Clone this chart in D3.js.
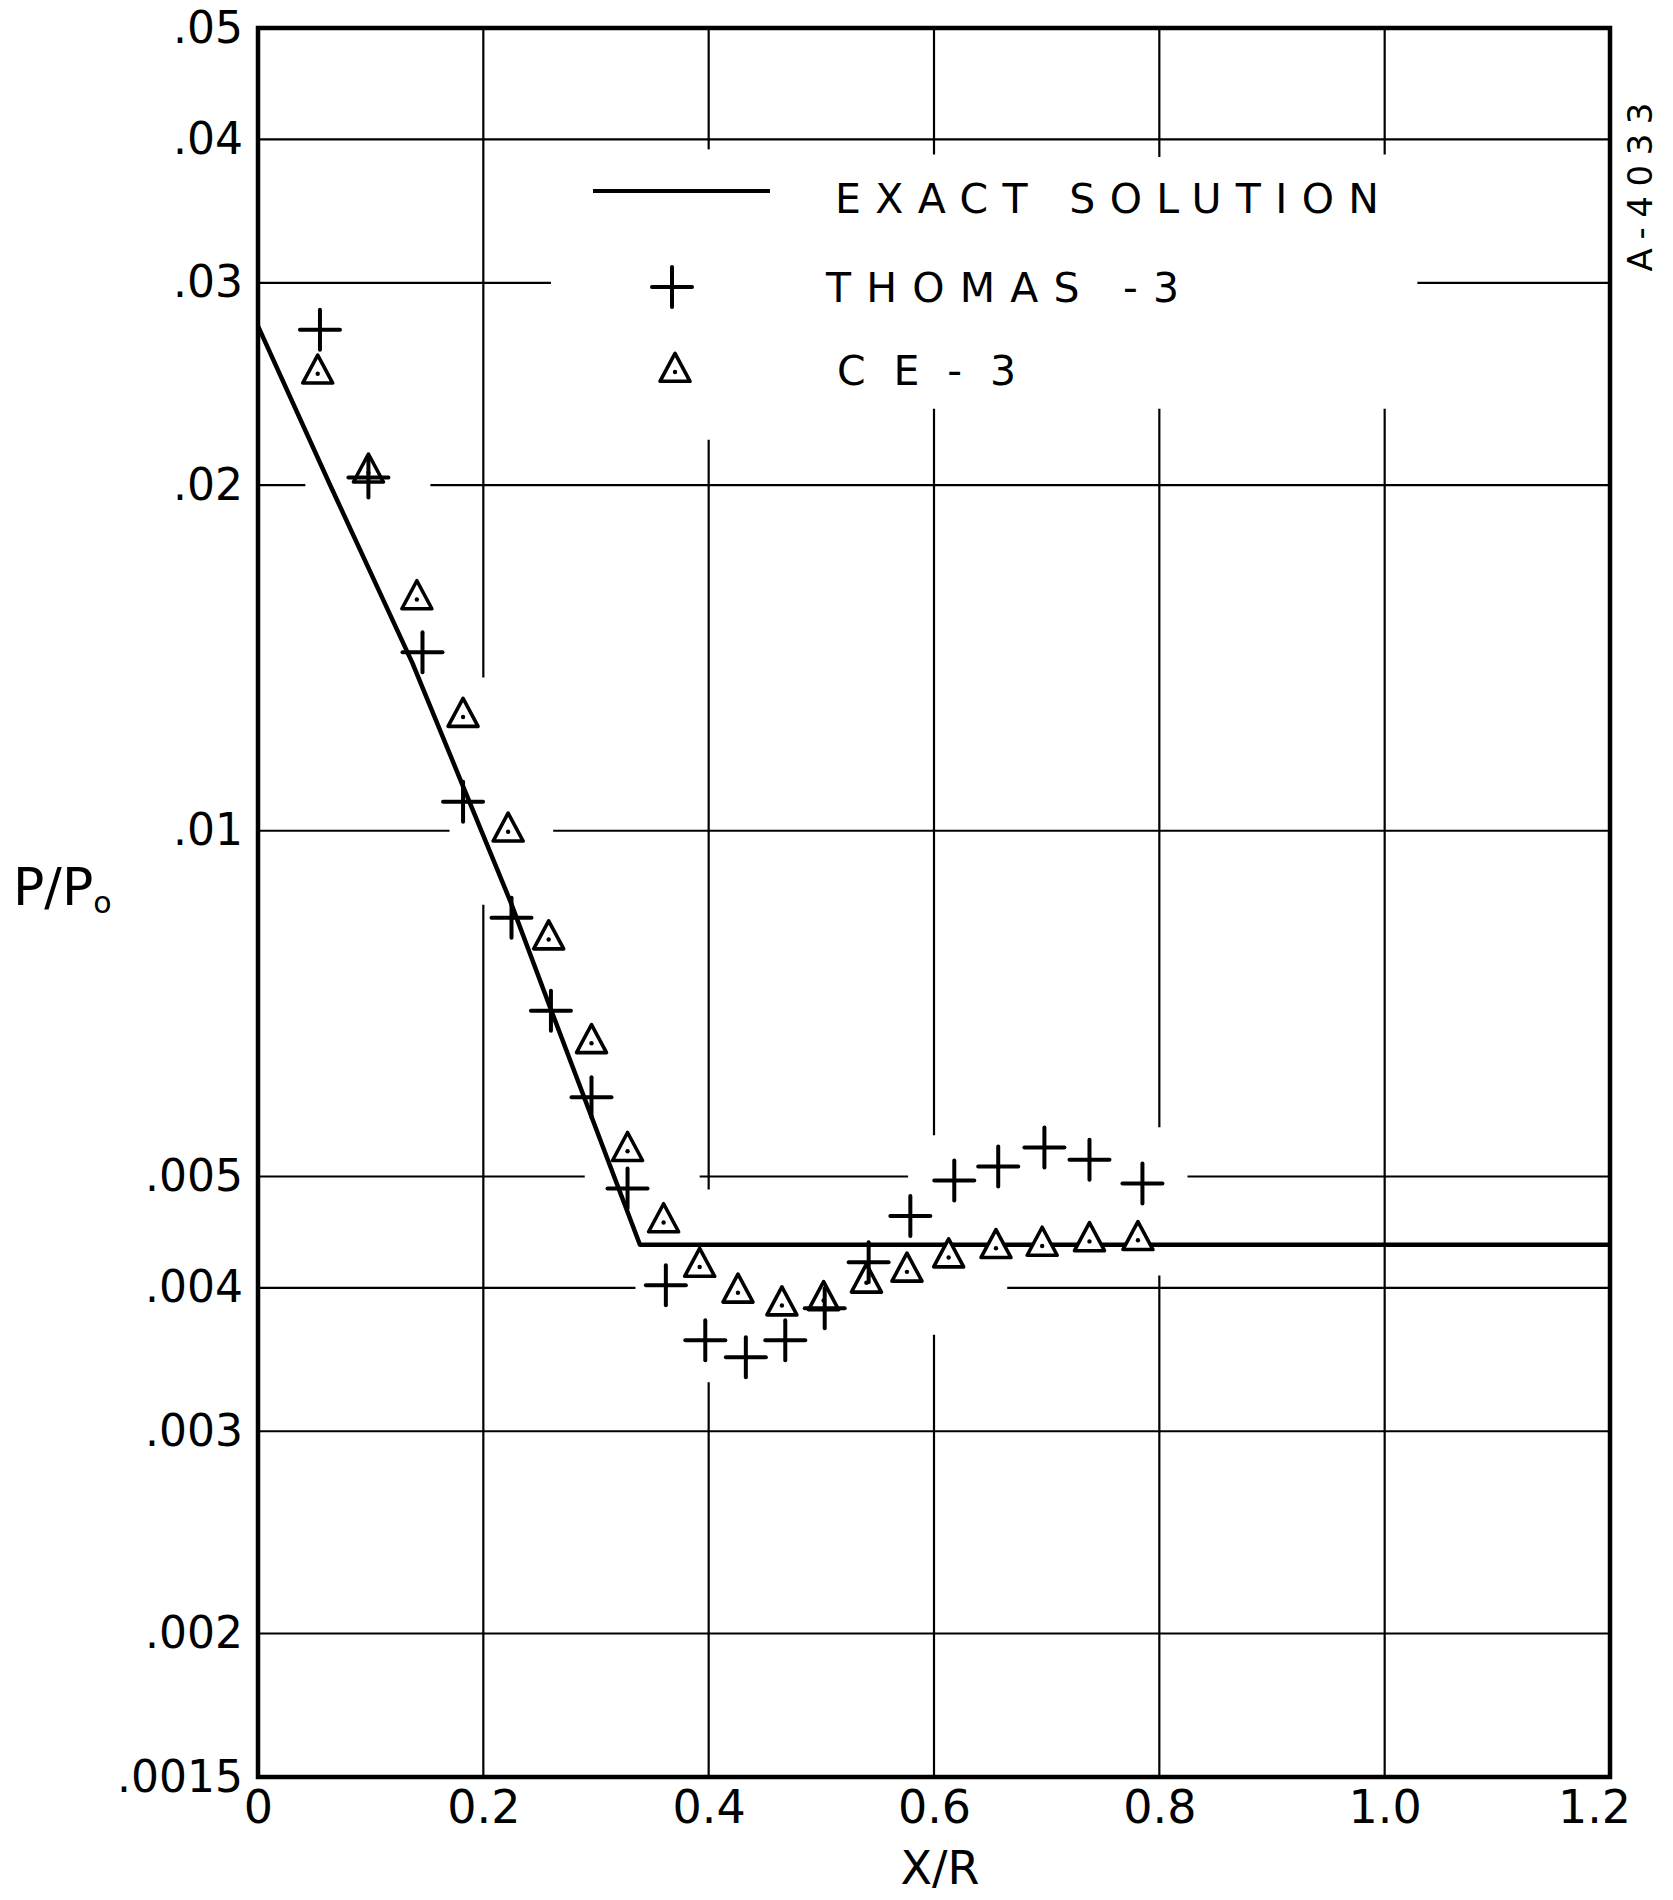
<!DOCTYPE html>
<html><head><meta charset="utf-8">
<script src="https://cdn.jsdelivr.net/npm/d3@7"></script>
<style>
html,body{margin:0;padding:0;background:#fff;}
svg{display:block;}
text{font-family:"DejaVu Sans",sans-serif;fill:#000;}
</style></head><body>
<svg id="chart" width="1673" height="1900"></svg>
<script>
// ---- data ----
const xTicks = [0, 0.2, 0.4, 0.6, 0.8, 1.0, 1.2];
const xTickLabels = ["0", "0.2", "0.4", "0.6", "0.8", "1.0", "1.2"];
const yTicks = [0.05, 0.04, 0.03, 0.02, 0.01, 0.005, 0.004, 0.003, 0.002, 0.0015];
const yTickLabels = [".05", ".04", ".03", ".02", ".01", ".005", ".004", ".003", ".002", ".0015"];

const hGridValues = [0.04, 0.03, 0.02, 0.01, 0.005, 0.004, 0.003, 0.002];
const hGridGaps = [[], [[0.26, 1.029]], [[0.042, 0.153]], [[0.170, 0.262]], [[0.290, 0.392], [0.577, 0.825]], [[0.335, 0.665]], [], []];
const vGridValues = [0.2, 0.4, 0.6, 0.8, 1.0];
const vGridGaps = [[[0.00862, 0.0136]], [[0.0219, 0.0392], [0.00331, 0.00487]], [[0.0233, 0.0388], [0.00364, 0.00543]], [[0.0233, 0.0386], [0.0041, 0.00552]], [[0.0233, 0.0388]]];

const exactX = [0, 0.064, 0.137, 0.176, 0.224, 0.259, 0.339, 1.2];
const exactY = [0.0275, 0.0200, 0.0140, 0.0113, 0.00868, 0.00703, 0.00436, 0.00436];

const thomasX = [0.055, 0.098, 0.146, 0.182, 0.225, 0.260, 0.296, 0.328, 0.362, 0.397, 0.433, 0.468, 0.503, 0.542, 0.579, 0.618, 0.657, 0.698, 0.738, 0.785];
const thomasY = [0.0273, 0.0203, 0.0143, 0.0106, 0.0084, 0.00697, 0.00586, 0.00488, 0.00402, 0.0036, 0.00348, 0.0036, 0.00384, 0.00421, 0.00462, 0.00496, 0.0051, 0.0053, 0.00517, 0.00493];

const ceX = [0.053, 0.098, 0.141, 0.182, 0.222, 0.258, 0.296, 0.328, 0.360, 0.392, 0.426, 0.465, 0.502, 0.540, 0.576, 0.613, 0.655, 0.696, 0.738, 0.781];
const ceY = [0.0250, 0.0205, 0.0159, 0.01256, 0.00998, 0.00804, 0.00653, 0.00526, 0.00456, 0.00417, 0.00396, 0.00386, 0.0039, 0.00404, 0.00413, 0.00425, 0.00433, 0.00435, 0.00439, 0.0044];

const legendLabels = ["EXACT SOLUTION", "THOMAS -3", "CE-3"];
const xTitle = "X/R";
const yTitle = "P/P";
const yTitleSub = "o";
const refLabel = "A-4033";

// ---- layout ----
const L = 258, R = 1610, T = 28, B = 1777;
const svg = d3.select("#chart");
const x = d3.scaleLinear().domain([0, 1.2]).range([L, R]);
const y = d3.scaleLog().domain([0.0015, 0.05]).range([B, T]);

function segs(lo, hi, gaps) {
  const out = []; let s = lo;
  gaps.slice().sort((a, b) => a[0] - b[0]).forEach(g => { out.push([s, g[0]]); s = g[1]; });
  out.push([s, hi]);
  return out;
}

const grid = svg.append("g").attr("stroke", "#000").attr("stroke-width", 2.2).attr("fill", "none");
hGridValues.forEach((v, i) => {
  segs(0, 1.2, hGridGaps[i]).forEach(sg => {
    grid.append("line").attr("x1", x(sg[0])).attr("x2", x(sg[1])).attr("y1", y(v)).attr("y2", y(v));
  });
});
vGridValues.forEach((v, i) => {
  const gaps = vGridGaps[i].map(g => [Math.min(g[0], g[1]), Math.max(g[0], g[1])]);
  segs(0.0015, 0.05, gaps).forEach(sg => {
    grid.append("line").attr("x1", x(v)).attr("x2", x(v)).attr("y1", y(sg[0])).attr("y2", y(sg[1]));
  });
});

// frame
svg.append("rect").attr("x", L).attr("y", T).attr("width", R - L).attr("height", B - T)
  .attr("fill", "none").attr("stroke", "#000").attr("stroke-width", 4.5);

// axes
const xAxis = svg.append("g").attr("transform", `translate(0,${B})`)
  .call(d3.axisBottom(x).tickValues(xTicks).tickFormat((d, i) => xTickLabels[i]).tickSize(0).tickPadding(13));
xAxis.select(".domain").remove();
xAxis.selectAll("text").attr("font-size", 46).attr("font-family", "DejaVu Sans").attr("fill", "#000")
  .attr("dx", (d, i) => i === xTicks.length - 1 ? -16 : 0);

const yAxis = svg.append("g").attr("transform", `translate(${L},0)`)
  .call(d3.axisLeft(y).tickValues(yTicks).tickFormat((d, i) => yTickLabels[i]).tickSize(0).tickPadding(15));
yAxis.select(".domain").remove();
yAxis.selectAll("text").attr("font-size", 44).attr("font-family", "DejaVu Sans").attr("fill", "#000");

// exact solution line
const exactData = exactX.map((d, i) => [d, exactY[i]]);
svg.append("path").datum(exactData)
  .attr("d", d3.line().x(d => x(d[0])).y(d => y(d[1])))
  .attr("fill", "none").attr("stroke", "#000").attr("stroke-width", 4.5).attr("stroke-linejoin", "round");

// markers
const triPath = "M0,-18.7L15,9.3L-15,9.3Z";
function triangle(g, cx, cy) {
  const t = g.append("g").attr("transform", `translate(${cx},${cy})`);
  t.append("path").attr("d", triPath).attr("fill", "#fff").attr("stroke", "#000").attr("stroke-width", 3.6).attr("stroke-linejoin", "round");
  t.append("circle").attr("r", 2.2).attr("fill", "#000");
}
function plus(g, cx, cy) {
  const p = g.append("g").attr("transform", `translate(${cx},${cy})`).attr("stroke", "#000").attr("stroke-width", 4).attr("stroke-linecap", "round");
  p.append("line").attr("x1", -20).attr("x2", 20).attr("y1", 0).attr("y2", 0);
  p.append("line").attr("x1", 0).attr("x2", 0).attr("y1", -20).attr("y2", 20);
}
const mk = svg.append("g");
ceX.forEach((d, i) => triangle(mk, x(d), y(ceY[i])));
thomasX.forEach((d, i) => plus(mk, x(d), y(thomasY[i])));

// legend
const lg = svg.append("g");
lg.append("line").attr("x1", 593).attr("x2", 770).attr("y1", 191).attr("y2", 191).attr("stroke", "#000").attr("stroke-width", 4);
plus(lg, 672, 287);
triangle(lg, 675, 372);
const lt = [[835, 213, 544], [826, 302, 353], [837, 385, 179]];
legendLabels.forEach((s, i) => {
  lg.append("text").attr("x", lt[i][0]).attr("y", lt[i][1]).attr("font-size", 41)
    .attr("textLength", lt[i][2]).attr("lengthAdjust", "spacing").text(s);
});

// titles
svg.append("text").attr("x", 940).attr("y", 1884).attr("text-anchor", "middle").attr("font-size", 46).text(xTitle);
const yt = svg.append("text").attr("x", 13).attr("y", 905).attr("font-size", 52).text(yTitle);
yt.append("tspan").attr("font-size", 30).attr("dy", 8).text(yTitleSub);
svg.append("text").attr("transform", "translate(1652,187) rotate(-90)").attr("text-anchor", "middle")
  .attr("font-size", 34).attr("textLength", 169).attr("lengthAdjust", "spacing").text(refLabel);
</script>
</body></html>
